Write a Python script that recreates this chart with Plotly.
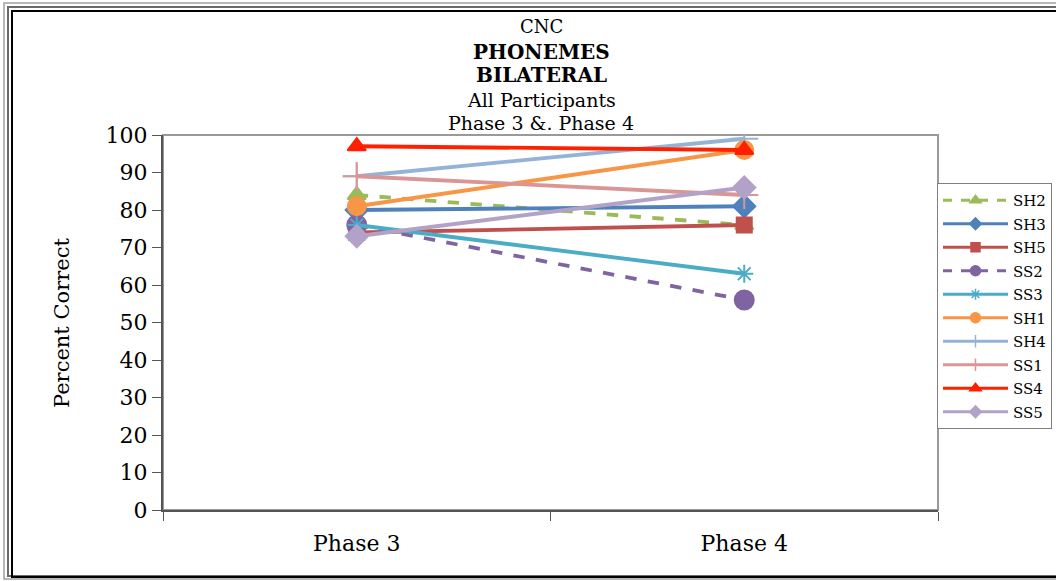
import plotly.graph_objects as go

phases = ["Phase 3", "Phase 4"]

participants = ["SH2", "SH3", "SH5", "SS2", "SS3", "SH1", "SH4", "SS1", "SS4", "SS5"]
sh2 = [84, 76]
sh3 = [80, 81]
sh5 = [74, 76]
ss2 = [76, 56]
ss3 = [76, 63]
sh1 = [81, 96]
sh4 = [89, 99]
ss1 = [89, 84]
ss4 = [97, 96]
ss5 = [73, 86]

series_values = [sh2, sh3, sh5, ss2, ss3, sh1, sh4, ss1, ss4, ss5]

title_lines = ["CNC", "<b>PHONEMES</b>", "<b>BILATERAL</b>", "All Participants", "Phase 3 &. Phase 4"]
title_sizes = [18, 20, 20, 19, 19]

styles = {
    "SH2": dict(color="#9BBB59", dash="dash", symbol="triangle-up", size=16, lsize=10),
    "SH3": dict(color="#4F81BD", dash="solid", symbol="diamond", size=17, lsize=9),
    "SH5": dict(color="#C0504D", dash="solid", symbol="square", size=15, lsize=9),
    "SS2": dict(color="#8064A2", dash="dash", symbol="circle", size=19, lsize=10),
    "SS3": dict(color="#4BACC6", dash="solid", symbol="asterisk-open", size=15, lsize=9),
    "SH1": dict(color="#F79646", dash="solid", symbol="circle", size=18, lsize=10),
    "SH4": dict(color="#95B3D7", dash="solid", symbol="cross-thin-open", size=20, lsize=9),
    "SS1": dict(color="#D99694", dash="solid", symbol="cross-thin-open", size=20, lsize=9),
    "SS4": dict(color="#FF2000", dash="solid", symbol="triangle-up", size=16, lsize=10),
    "SS5": dict(color="#B3A2C7", dash="solid", symbol="diamond", size=17, lsize=9),
}

fig = go.Figure()
for name, vals in zip(participants, series_values):
    s = styles[name]
    fig.add_trace(go.Scatter(
        x=phases, y=vals, name=name, mode="lines+markers", showlegend=False,
        line=dict(color=s["color"], width=3.8, dash=s["dash"]),
        marker=dict(symbol=s["symbol"], size=s["size"], color=s["color"],
                    line=dict(color=s["color"], width=2)),
    ))

# legend entries with smaller sample markers
for name in participants:
    s = styles[name]
    fig.add_trace(go.Scatter(
        x=[None], y=[None], name=name, mode="lines+markers", legendgroup=name,
        line=dict(color=s["color"], width=3, dash=s["dash"]),
        marker=dict(symbol=s["symbol"], size=s["lsize"], color=s["color"],
                    line=dict(color=s["color"], width=1.5)),
    ))

W, H = 1056, 581
L, R, T, B = 163, 118, 135, 71
pw, ph = W - L - R, H - T - B


def px(x):
    return (x - L) / pw


def py(y):
    return (H - B - y) / ph


serif = "DejaVu Serif, serif"

shapes = [
    # plot area border
    dict(type="rect", xref="paper", yref="paper", x0=0, y0=0, x1=1, y1=1,
         line=dict(color="#9a9a9a", width=2), layer="below"),
    # chart frame
    dict(type="rect", xref="paper", yref="paper", x0=px(4), y0=py(3), x1=px(1060), y1=py(579),
         line=dict(color="#a0a0a0", width=1.5)),
    dict(type="rect", xref="paper", yref="paper", x0=px(8), y0=py(7), x1=px(1060), y1=py(576),
         line=dict(color="#6a6a6a", width=2)),
    dict(type="rect", xref="paper", yref="paper", x0=px(12), y0=py(11), x1=px(1060), y1=py(577),
         line=dict(color="#000000", width=2)),
]

annotations = []
for text, size, yc in zip(title_lines, title_sizes, [27, 52, 75, 100, 123]):
    annotations.append(dict(
        text=text, xref="paper", yref="paper", x=px(541), y=py(yc),
        xanchor="center", yanchor="middle", showarrow=False,
        font=dict(family=serif, size=size, color="black"),
    ))
annotations.append(dict(
    text="Percent Correct", xref="paper", yref="paper", x=px(62), y=py(323),
    xanchor="center", yanchor="middle", textangle=-90, showarrow=False,
    font=dict(family=serif, size=21, color="black"),
))

fig.update_layout(
    width=W, height=H,
    margin=dict(l=L, r=R, t=T, b=B, autoexpand=False),
    paper_bgcolor="white", plot_bgcolor="white",
    font=dict(family=serif, color="black"),
    xaxis=dict(
        type="category", range=[-0.5, 1.5], tickson="boundaries",
        ticks="outside", ticklen=9, tickcolor="#555",
        showline=True, linecolor="#555", linewidth=2,
        showgrid=False, zeroline=False,
        tickfont=dict(family=serif, size=22, color="black"),
        ticklabelstandoff=13,
    ),
    yaxis=dict(
        range=[0, 100], dtick=10, ticks="outside", ticklen=9, tickcolor="#555",
        showline=True, linecolor="#555", linewidth=2,
        showgrid=False, zeroline=False,
        tickfont=dict(family=serif, size=22, color="black"),
    ),
    legend=dict(
        x=px(937), y=py(183), xanchor="left", yanchor="top",
        bordercolor="#808080", borderwidth=1, bgcolor="white",
        font=dict(family=serif, size=15, color="black"),
        tracegroupgap=1, itemwidth=65,
    ),
    annotations=annotations,
    shapes=shapes,
    showlegend=True,
)

fig.write_html("out.html")
